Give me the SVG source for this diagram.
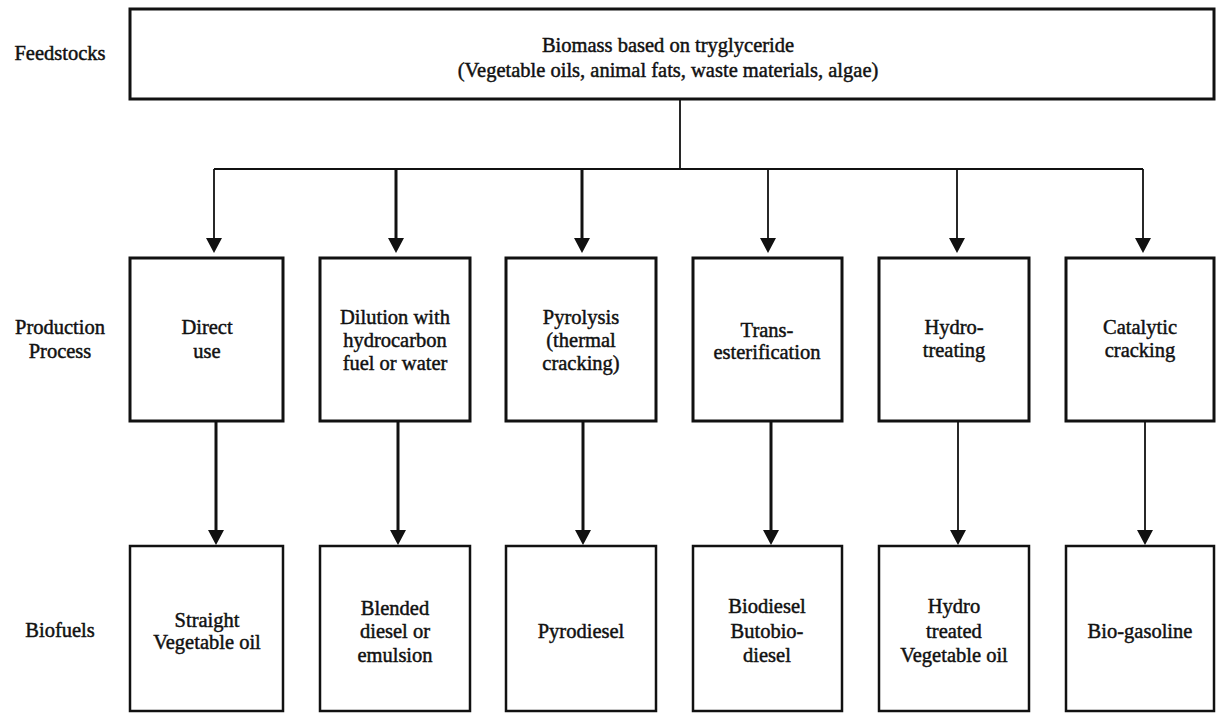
<svg xmlns="http://www.w3.org/2000/svg" width="1216" height="713" viewBox="0 0 1216 713">
<style>
  .box{fill:#fff;stroke:#111;stroke-width:3}
  .bbox{fill:#fff;stroke:#111;stroke-width:2.5}
  .t{font-family:"Liberation Serif","Times New Roman",serif;font-size:20.5px;fill:#111;text-anchor:middle;stroke:#111;stroke-width:0.45}
  .thin{fill:none;stroke:#111;stroke-width:1.8}
  .thick{fill:none;stroke:#111;stroke-width:3}
</style>
<defs>
  <marker id="ah" viewBox="0 0 15 16" refX="7" refY="8" markerWidth="15" markerHeight="16" markerUnits="userSpaceOnUse" orient="auto">
    <path d="M0,0 L15,8 L0,16 Z" fill="#111"/>
  </marker>
</defs>
<rect width="1216" height="713" fill="#fff"/>

<g id="labels">
  <text class="t" x="60" y="60">Feedstocks</text>
  <text class="t" x="60" y="334">Production</text>
  <text class="t" x="60" y="358">Process</text>
  <text class="t" x="60" y="637">Biofuels</text>
</g>

<g id="connectors">
  <path class="thin" d="M680,99 V169 M214,169 H1143"/>
  <line class="thin" x1="214" y1="169" x2="214" y2="245" marker-end="url(#ah)"/>
  <line class="thick" x1="396" y1="169" x2="396" y2="245" marker-end="url(#ah)"/>
  <line class="thick" x1="582" y1="169" x2="582" y2="245" marker-end="url(#ah)"/>
  <line class="thin" x1="768" y1="169" x2="768" y2="245" marker-end="url(#ah)"/>
  <line class="thin" x1="957" y1="169" x2="957" y2="245" marker-end="url(#ah)"/>
  <line class="thin" x1="1143" y1="169" x2="1143" y2="245" marker-end="url(#ah)"/>
  <line class="thick" x1="216" y1="421" x2="216" y2="537" marker-end="url(#ah)"/>
  <line class="thick" x1="398" y1="421" x2="398" y2="537" marker-end="url(#ah)"/>
  <line class="thick" x1="583" y1="421" x2="583" y2="537" marker-end="url(#ah)"/>
  <line class="thick" x1="771" y1="421" x2="771" y2="537" marker-end="url(#ah)"/>
  <line class="thin" x1="958" y1="421" x2="958" y2="537" marker-end="url(#ah)"/>
  <line class="thin" x1="1145" y1="421" x2="1145" y2="537" marker-end="url(#ah)"/>
</g>

<g id="feedstock">
  <rect class="box" x="130" y="9" width="1084" height="90"/>
  <text class="t" x="668" y="52">Biomass based on tryglyceride</text>
  <text class="t" x="668" y="77">(Vegetable oils, animal fats, waste materials, algae)</text>
</g>

<g id="p1"><rect class="box" x="130" y="258" width="153" height="163"/>
  <text class="t" x="207" y="334">Direct</text><text class="t" x="207" y="358">use</text></g>
<g id="p2"><rect class="box" x="320" y="258" width="150" height="163"/>
  <text class="t" x="395" y="324">Dilution with</text><text class="t" x="395" y="347">hydrocarbon</text><text class="t" x="395" y="370">fuel or water</text></g>
<g id="p3"><rect class="box" x="506" y="258" width="150" height="163"/>
  <text class="t" x="581" y="324">Pyrolysis</text><text class="t" x="581" y="347">(thermal</text><text class="t" x="581" y="370">cracking)</text></g>
<g id="p4"><rect class="box" x="693" y="258" width="149" height="163"/>
  <text class="t" x="767" y="337">Trans-</text><text class="t" x="767" y="359">esterification</text></g>
<g id="p5"><rect class="box" x="879" y="258" width="150" height="163"/>
  <text class="t" x="954" y="334">Hydro-</text><text class="t" x="954" y="357">treating</text></g>
<g id="p6"><rect class="box" x="1066" y="258" width="148" height="163"/>
  <text class="t" x="1140" y="334">Catalytic</text><text class="t" x="1140" y="357">cracking</text></g>

<g id="b1"><rect class="bbox" x="130" y="546" width="153" height="165"/>
  <text class="t" x="207" y="627">Straight</text><text class="t" x="207" y="649">Vegetable oil</text></g>
<g id="b2"><rect class="bbox" x="320" y="546" width="150" height="165"/>
  <text class="t" x="395" y="615">Blended</text><text class="t" x="395" y="638">diesel or</text><text class="t" x="395" y="662">emulsion</text></g>
<g id="b3"><rect class="bbox" x="506" y="546" width="150" height="165"/>
  <text class="t" x="581" y="638">Pyrodiesel</text></g>
<g id="b4"><rect class="bbox" x="693" y="546" width="149" height="165"/>
  <text class="t" x="767" y="613">Biodiesel</text><text class="t" x="767" y="638">Butobio-</text><text class="t" x="767" y="662">diesel</text></g>
<g id="b5"><rect class="bbox" x="879" y="546" width="150" height="165"/>
  <text class="t" x="954" y="613">Hydro</text><text class="t" x="954" y="638">treated</text><text class="t" x="954" y="662">Vegetable oil</text></g>
<g id="b6"><rect class="bbox" x="1066" y="546" width="148" height="165"/>
  <text class="t" x="1140" y="638">Bio-gasoline</text></g>
</svg>
